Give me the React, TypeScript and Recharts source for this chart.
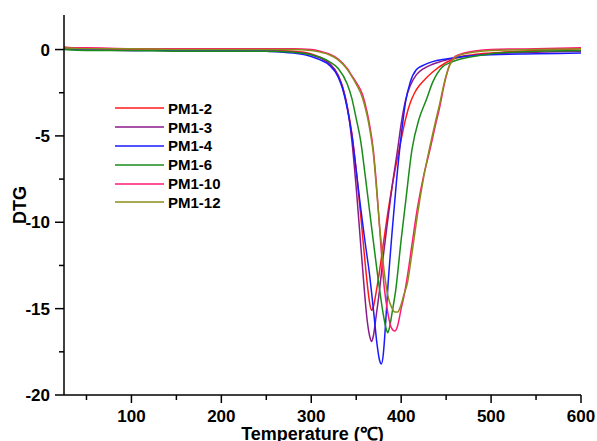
import React from 'react';
import { LineChart, Line, XAxis, YAxis, Legend } from 'recharts';

// DTG curves, [temperature (°C), DTG]
const pm12 = [[25,0.15],[50,0.05],[100,0],[150,0],[200,0],[250,-0.05],[280,-0.1],[300,-0.25],[310,-0.45],[320,-0.8],[330,-1.5],[335,-2.2],[340,-3.3],[345,-4.8],[350,-7.0],[355,-9.6],[360,-12.4],[363,-13.9],[365,-14.7],[367,-15.1],[369,-14.9],[372,-14.1],[376,-12.8],[380,-11.3],[385,-9.5],[390,-7.9],[395,-6.5],[400,-5.2],[405,-4.0],[410,-3.1],[415,-2.5],[420,-2.1],[425,-1.8],[435,-1.3],[450,-0.75],[460,-0.5],[480,-0.3],[500,-0.2],[550,-0.05],[600,0.05]];
const pm13 = [[25,0.05],[50,0],[100,-0.05],[150,0],[200,-0.05],[250,-0.05],[280,-0.15],[300,-0.3],[310,-0.5],[320,-0.8],[330,-1.5],[335,-2.2],[340,-3.3],[345,-5.2],[350,-8.0],[355,-11.3],[359,-13.9],[362,-15.6],[365,-16.6],[367,-16.9],[369,-16.6],[372,-15.5],[376,-13.9],[380,-12.0],[385,-9.9],[390,-7.9],[396,-5.8],[400,-4.3],[405,-2.9],[410,-2.1],[417,-1.45],[425,-1.1],[435,-0.85],[450,-0.6],[470,-0.4],[500,-0.25],[550,-0.15],[600,-0.1]];
const pm14 = [[25,0.05],[50,0],[100,-0.05],[150,-0.05],[200,-0.05],[250,-0.1],[280,-0.2],[300,-0.4],[310,-0.6],[320,-0.9],[330,-1.6],[335,-2.3],[340,-3.4],[345,-4.9],[350,-7.0],[355,-9.2],[360,-11.2],[365,-13.1],[370,-15.5],[373,-17.0],[376,-18.0],[378,-18.2],[380,-17.7],[382,-16.4],[385,-13.9],[390,-10.5],[395,-7.5],[400,-5.0],[405,-3.0],[410,-1.9],[417,-1.16],[425,-0.9],[435,-0.7],[450,-0.55],[470,-0.4],[500,-0.3],[550,-0.25],[600,-0.2]];
const pm16 = [[25,0],[50,-0.05],[100,-0.05],[150,-0.1],[200,-0.1],[250,-0.1],[280,-0.15],[300,-0.3],[310,-0.45],[320,-0.7],[330,-1.1],[340,-2.0],[345,-2.8],[350,-4.0],[355,-5.3],[360,-7.3],[365,-9.4],[370,-11.5],[376,-13.9],[380,-15.3],[383,-16.1],[385,-16.4],[387,-16.1],[390,-15.2],[394,-13.9],[400,-11.0],[405,-8.8],[412,-5.8],[420,-4.0],[428,-2.9],[435,-1.9],[440,-1.4],[446,-1.0],[455,-0.75],[470,-0.5],[500,-0.25],[550,-0.1],[600,-0.05]];
const pm110 = [[25,0.1],[50,0.1],[100,0.05],[150,0.05],[200,0.05],[250,0.05],[280,0.05],[300,0],[310,-0.1],[320,-0.25],[330,-0.55],[340,-1.1],[345,-1.5],[350,-1.9],[357,-2.6],[362,-3.6],[365,-4.4],[369,-5.8],[372,-7.5],[376,-10.3],[381,-13.7],[385,-15.2],[389,-16.1],[393,-16.3],[396,-16.0],[400,-15.0],[403,-14.3],[407,-13.1],[412,-11.3],[418,-9.2],[425,-7.3],[432,-5.8],[438,-4.4],[443,-3.3],[448,-2.0],[454,-0.87],[460,-0.4],[470,-0.2],[500,0],[550,0.05],[600,0.1]];
const pm112 = [[25,0.1],[50,0.05],[100,0.05],[150,0],[200,0],[250,0],[280,0],[300,-0.05],[310,-0.15],[320,-0.3],[330,-0.6],[340,-1.15],[345,-1.55],[350,-2.0],[357,-2.8],[362,-3.8],[365,-4.6],[369,-6.0],[372,-7.7],[376,-10.2],[381,-12.8],[385,-14.2],[390,-15.0],[393,-15.2],[396,-15.2],[399,-14.9],[403,-14.2],[407,-13.5],[412,-11.8],[418,-9.6],[425,-7.4],[432,-5.6],[438,-4.2],[443,-3.1],[448,-1.9],[454,-0.9],[460,-0.45],[470,-0.25],[500,-0.05],[550,0],[600,0.05]];

const seriesNames = ['PM1-2', 'PM1-3', 'PM1-4', 'PM1-6', 'PM1-10', 'PM1-12'];
const seriesData = [pm12, pm13, pm14, pm16, pm110, pm112];
const seriesColors = ['#ff1a1a', '#8b1a8b', '#1a1aff', '#1a8c1a', '#ff1a75', '#8c8c1a'];

const xTicks = [50, 100, 150, 200, 250, 300, 350, 400, 450, 500, 550, 600];
const yTicks = [-20, -17.5, -15, -12.5, -10, -7.5, -5, -2.5, 0];

const font = '"Liberation Sans", Arial, sans-serif';

function XTick(props: any) {
  const { x, y, payload } = props;
  const major = payload.value % 100 === 0;
  return (
    <g>
      <line x1={x} x2={x} y1={y} y2={y + (major ? 8 : 5)} stroke="#000" strokeWidth={1.5} />
      {major && (
        <text x={x} y={y + 27} textAnchor="middle" fontFamily={font} fontWeight="bold" fontSize={17} fill="#000">
          {payload.value}
        </text>
      )}
    </g>
  );
}

function YTick(props: any) {
  const { x, y, payload } = props;
  const major = payload.value % 5 === 0;
  return (
    <g>
      <line x1={x} x2={x - (major ? 9 : 5)} y1={y} y2={y} stroke="#000" strokeWidth={1.5} />
      {major && (
        <text x={x - 14} y={y} dy="0.36em" textAnchor="end" fontFamily={font} fontWeight="bold" fontSize={17} fill="#000">
          {payload.value}
        </text>
      )}
    </g>
  );
}

function LegendBox() {
  return (
    <div style={{ fontFamily: font, fontWeight: 'bold', fontSize: 15 }}>
      {seriesNames.map((name, i) => (
        <div key={name} style={{ display: 'flex', alignItems: 'center', height: 18.8 }}>
          <svg width={50} height={4}>
            <line x1={0} x2={49} y1={2} y2={2} stroke={seriesColors[i]} strokeWidth={1.6} />
          </svg>
          <span style={{ marginLeft: 3 }}>{name}</span>
        </div>
      ))}
    </div>
  );
}

export default function App() {
  return (
    <div style={{ position: 'absolute', left: 0, top: 0, background: '#fff' }}>
      <LineChart width={597} height={441} margin={{ top: 15, right: 16, left: 4, bottom: 0 }}>
        <XAxis
          type="number"
          dataKey="t"
          domain={[25, 600]}
          ticks={xTicks}
          tick={<XTick />}
          tickSize={0}
          tickMargin={0}
          tickLine={false}
          height={46}
          stroke="#000"
          strokeWidth={1.5}
          allowDataOverflow
          label={({ viewBox }: any) => (
            <text x={viewBox.x + viewBox.width / 2 - 10} y={viewBox.y + 45} textAnchor="middle" fontFamily={font} fontWeight="bold" fontSize={18} fill="#000">
              Temperature (℃)
            </text>
          )}
        />
        <YAxis
          type="number"
          domain={[-20, 2]}
          ticks={yTicks}
          tick={<YTick />}
          tickSize={0}
          tickMargin={0}
          tickLine={false}
          width={60}
          stroke="#000"
          strokeWidth={1.5}
          allowDataOverflow
          label={({ viewBox }: any) => (
            <text x={20} y={viewBox.y + viewBox.height / 2} transform={`rotate(-90, 20, ${viewBox.y + viewBox.height / 2})`} textAnchor="middle" dy="0.36em" fontFamily={font} fontWeight="bold" fontSize={18} fill="#000">
              DTG
            </text>
          )}
        />
        <Legend
          layout="horizontal"
          verticalAlign="middle"
          align="center"
          content={<LegendBox />}
          wrapperStyle={{ left: 115, top: 99, width: 120 }}
        />
        {seriesNames.map((name, i) => (
          <Line
            key={name}
            name={name}
            data={seriesData[i].map(([t, v]) => ({ t, v }))}
            dataKey="v"
            type="monotone"
            stroke={seriesColors[i]}
            strokeWidth={1.5}
            dot={false}
            isAnimationActive={false}
          />
        ))}
      </LineChart>
    </div>
  );
}
